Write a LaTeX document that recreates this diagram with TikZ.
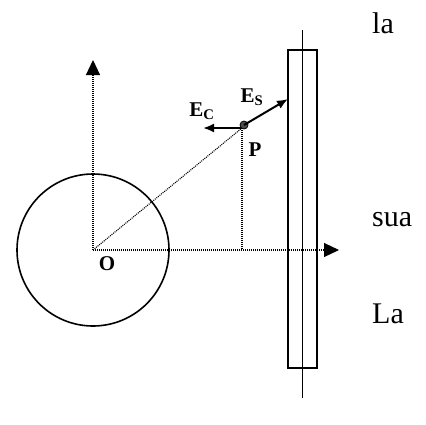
\documentclass[tikz,border=0pt]{standalone}
\usepackage{fontspec}
\setmainfont{Liberation Serif}
\usetikzlibrary{arrows.meta}

\begin{document}
\begin{tikzpicture}[
  x=1pt, y=-1pt,
  guide/.style={line width=1.1pt, dash pattern=on 1pt off 1pt},
  axis/.style={guide, -{Triangle[length=15pt,width=14pt]}},
  field/.style={line width=2pt, -{Latex[length=11pt,width=9pt]}},
  lbl/.style={font=\bfseries\fontsize{21}{23}\selectfont, inner sep=0pt},
  word/.style={font=\fontsize{30}{34}\selectfont, inner sep=0pt, anchor=base west},
]
\useasboundingbox (0,0) rectangle (426,424);

% axes and the sphere
\coordinate (O) at (93,250);
\coordinate (ytip) at (93,60);
\coordinate (xtip) at (339,250);
\draw[line width=1.6pt] (O) circle (76pt);
\draw[axis] (O) -- (ytip);
\draw[axis] (O) -- (xtip);
\node[lbl] (Olbl) at (107,264) {O};

% plate
\node[draw, line width=1.5pt, minimum width=29pt, minimum height=318pt, inner sep=0pt] (plate) at (302.5,209) {};
\coordinate (ptop) at (302,30);
\coordinate (pbot) at (302,398);
\draw[line width=1pt] (ptop) -- (pbot);

% point P and its fields
\coordinate (Pj) at (242,128);
\coordinate (Pfoot) at (242,250);
\coordinate (Stip) at (288,99);
\coordinate (Ctip) at (203,128);
\draw[guide] (O) -- (Pj);
\draw[guide] (Pj) -- (Pfoot);
\draw[field] (Pj) -- (Ctip);
\node[circle, draw, line width=0.8pt, fill=black!70, inner sep=0pt, minimum size=8pt] (P) at (244,125) {};
\draw[field] (P.center) -- (Stip);
\node[lbl] (Slbl) at (252,97) {E\textsubscript{S}};
\node[lbl] (Clbl) at (202,111) {E\textsubscript{C}};
\node[lbl] (Plbl) at (255,150) {P};

% words on the right
\node[word] (w1) at (372,33) {la};
\node[word] (w2) at (372,226) {sua};
\node[word] (w3) at (372,323) {La};
\end{tikzpicture}
\end{document}
